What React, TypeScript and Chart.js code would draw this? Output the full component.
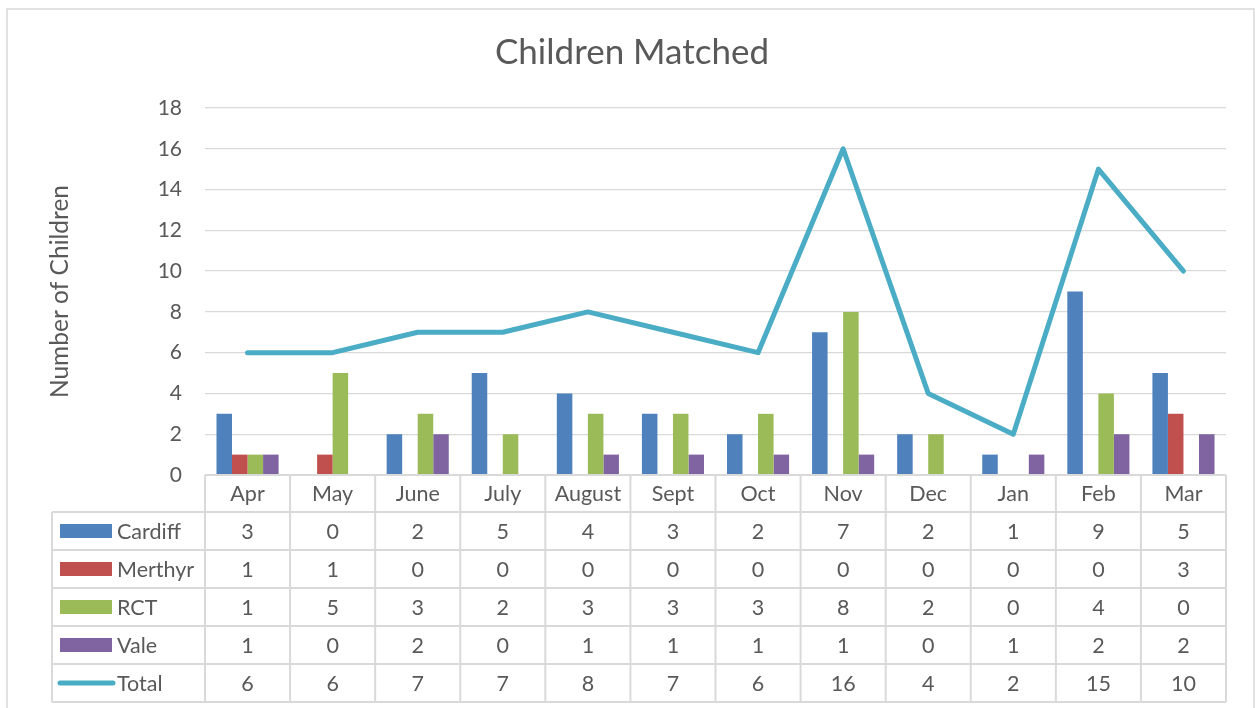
import React, { useEffect, useRef } from "react";
import { Chart, registerables } from "chart.js";

Chart.register(...registerables);

const months = ["Apr", "May", "June", "July", "August", "Sept", "Oct", "Nov", "Dec", "Jan", "Feb", "Mar"];
const cardiff = [3, 0, 2, 5, 4, 3, 2, 7, 2, 1, 9, 5];
const merthyr = [1, 1, 0, 0, 0, 0, 0, 0, 0, 0, 0, 3];
const rct = [1, 5, 3, 2, 3, 3, 3, 8, 2, 0, 4, 0];
const vale = [1, 0, 2, 0, 1, 1, 1, 1, 0, 1, 2, 2];
const total = [6, 6, 7, 7, 8, 7, 6, 16, 4, 2, 15, 10];
const yMin = 0;
const yMax = 18;
const yStep = 2;

const chartTitle = "Children Matched";
const yTitle = "Number of Children";

const FONT = "Lato, 'Open Sans', sans-serif";
const TEXT = "#595959";
const GRID = "#D9D9D9";
const COLORS = { cardiff: "#4F81BD", merthyr: "#C0504D", rct: "#9BBB59", vale: "#8064A2", total: "#4BACC6" };

const seriesRows = [
  { name: "Cardiff", values: cardiff, color: COLORS.cardiff, kind: "bar" },
  { name: "Merthyr", values: merthyr, color: COLORS.merthyr, kind: "bar" },
  { name: "RCT", values: rct, color: COLORS.rct, kind: "bar" },
  { name: "Vale", values: vale, color: COLORS.vale, kind: "bar" },
  { name: "Total", values: total, color: COLORS.total, kind: "line" },
];

const decorPlugin = {
  id: "decor",
  beforeDraw(chart: any) {
    const { ctx, width, height } = chart;
    ctx.save();
    ctx.fillStyle = "#ffffff";
    ctx.fillRect(0, 0, width, height);
    ctx.strokeStyle = GRID;
    ctx.lineWidth = 1.5;
    ctx.strokeRect(7, 9, 1247, 720);
    ctx.restore();
  },
  afterDraw(chart: any) {
    const { ctx, chartArea } = chart;
    const x = chart.scales.x;
    const n = months.length;
    const w = (chartArea.right - chartArea.left) / n;
    const top = chartArea.bottom;
    const headerH = 37;
    const rowH = 38;
    const rowsTop = top + headerH;
    const bottom = rowsTop + rowH * seriesRows.length;
    const tableLeft = 52;

    ctx.save();
    // title
    ctx.fillStyle = TEXT;
    ctx.textAlign = "center";
    ctx.textBaseline = "middle";
    ctx.font = `35px ${FONT}`;
    ctx.fillText(chartTitle, 632, 53);

    // y-axis title
    ctx.save();
    ctx.translate(60, (chartArea.top + chartArea.bottom) / 2);
    ctx.rotate(-Math.PI / 2);
    ctx.font = `24.5px ${FONT}`;
    ctx.fillText(yTitle, 0, 0);
    ctx.restore();

    // table lines
    ctx.strokeStyle = GRID;
    ctx.lineWidth = 2;
    const line = (x1: number, y1: number, x2: number, y2: number) => {
      ctx.beginPath();
      ctx.moveTo(x1, y1);
      ctx.lineTo(x2, y2);
      ctx.stroke();
    };
    line(chartArea.left, top, chartArea.right, top);
    for (let r = 0; r <= seriesRows.length; r++) {
      const y = rowsTop + r * rowH;
      line(tableLeft, y, chartArea.right, y);
    }
    for (let i = 0; i <= n; i++) {
      const xb = i < n ? x.getPixelForValue(i) - w / 2 : chartArea.right;
      line(xb, top, xb, bottom);
    }
    line(tableLeft, rowsTop, tableLeft, bottom);

    // month labels
    ctx.fillStyle = TEXT;
    ctx.font = `21.5px ${FONT}`;
    ctx.textAlign = "center";
    ctx.textBaseline = "middle";
    for (let i = 0; i < n; i++) {
      ctx.fillText(months[i], x.getPixelForValue(i), top + headerH / 2 + 1);
    }

    // rows
    seriesRows.forEach((s, r) => {
      const cy = rowsTop + r * rowH + rowH / 2;
      if (s.kind === "bar") {
        ctx.fillStyle = s.color;
        ctx.fillRect(60, cy - 7, 52, 14);
      } else {
        ctx.strokeStyle = s.color;
        ctx.lineWidth = 5;
        ctx.lineCap = "round";
        line(60, cy, 113, cy);
      }
      ctx.fillStyle = TEXT;
      ctx.textAlign = "left";
      ctx.fillText(s.name, 117, cy + 1);
      ctx.textAlign = "center";
      for (let i = 0; i < n; i++) {
        ctx.fillText(String(s.values[i]), x.getPixelForValue(i), cy + 1);
      }
    });
    ctx.restore();
  },
};

export default function App() {
  const ref = useRef<HTMLCanvasElement | null>(null);
  useEffect(() => {
    if (!ref.current) return;
    const chart = new Chart(ref.current, {
      type: "bar",
      data: {
        labels: months,
        datasets: [
          {
            type: "line",
            label: "Total",
            data: total,
            borderColor: COLORS.total,
            backgroundColor: COLORS.total,
            borderWidth: 5,
            pointRadius: 0,
            tension: 0,
            borderJoinStyle: "round",
            borderCapStyle: "round",
            order: 0,
          } as any,
          { type: "bar", label: "Cardiff", data: cardiff, backgroundColor: COLORS.cardiff, order: 1 },
          { type: "bar", label: "Merthyr", data: merthyr, backgroundColor: COLORS.merthyr, order: 1 },
          { type: "bar", label: "RCT", data: rct, backgroundColor: COLORS.rct, order: 1 },
          { type: "bar", label: "Vale", data: vale, backgroundColor: COLORS.vale, order: 1 },
        ],
      },
      options: {
        responsive: false,
        animation: false,
        layout: { padding: { left: 0, right: 29, top: 108, bottom: 0 } },
        datasets: { bar: { categoryPercentage: 0.73, barPercentage: 1 } },
        plugins: { legend: { display: false }, tooltip: { enabled: false }, title: { display: false } },
        scales: {
          x: {
            grid: { display: false },
            border: { display: false },
            ticks: { display: false },
            afterFit: (s: any) => {
              s.height = 233;
            },
          },
          y: {
            min: yMin,
            max: yMax,
            ticks: { stepSize: yStep, color: TEXT, font: { family: FONT, size: 21 }, padding: 23 },
            grid: { color: GRID, lineWidth: 1.3, drawTicks: false },
            border: { display: false },
            afterFit: (s: any) => {
              s.width = 205;
            },
          },
        },
      },
      plugins: [decorPlugin],
    });
    return () => chart.destroy();
  }, []);
  return (
    <div style={{ position: "absolute", left: 0, top: 0, width: 1255, height: 708 }}>
      <canvas ref={ref} width={1255} height={708} style={{ display: "block" }} />
    </div>
  );
}
